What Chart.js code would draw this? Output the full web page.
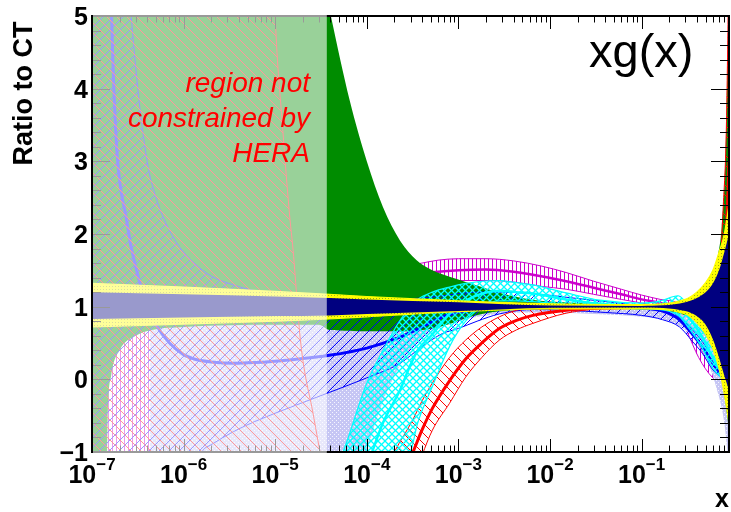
<!DOCTYPE html>
<html><head><meta charset="utf-8">
<script src="https://cdn.jsdelivr.net/npm/chart.js@4.4.1/dist/chart.umd.min.js"></script>
<style>html,body{margin:0;padding:0;background:#fff}canvas{display:block}</style>
</head><body>
<canvas id="c" width="731" height="512"></canvas>
<script>
// ---------------- data ----------------
const X_MIN = 1e-7, X_MAX = 0.9, Y_MIN = -1, Y_MAX = 5;
const HERA_LIMIT = 3.66e-5;
const X_TICK_VALUES = [1e-7, 1e-6, 1e-5, 1e-4, 1e-3, 1e-2, 1e-1];
const X_TICK_EXP = ['\u22127', '\u22126', '\u22125', '\u22124', '\u22123', '\u22122', '\u22121'];
const Y_TICK_VALUES = [-1, 0, 1, 2, 3, 4, 5];
const Y_TICK_LABELS = ['\u22121', '0', '1', '2', '3', '4', '5'];

const GREEN_X  = [1e-7, 1.4e-7, 1.48e-7, 1.62e-7, 2e-7, 3e-7, 4.5e-7, 1e-6, 1e-5, 3e-5, 3.9e-5, 6.5e-5, 1e-4, 1.5e-4, 2.3e-4, 3.5e-4, 5.2e-4, 8e-4, 1.2e-3, 1.8e-3, 3e-3, 6e-3, 1e-2, 3e-2, 0.1, 0.2, 0.3, 0.45, 0.6, 0.68, 0.75, 0.82, 0.9];
const GREEN_UP = [40, 40, 40, 40, 38, 35, 33, 30, 9, 5.8, 5.1, 3.84, 3.0, 2.37, 1.91, 1.64, 1.50, 1.41, 1.34, 1.27, 1.18, 1.10, 1.07, 1.04, 1.03, 1.05, 1.1, 1.2, 1.45, 1.7, 2.1, 3.0, 5.5];
const GREEN_LO = [-5, -3, -0.6, 0.05, 0.4, 0.6, 0.68, 0.72, 0.75, 0.75, 0.68, 0.67, 0.66, 0.66, 0.66, 0.67, 0.7, 0.76, 0.84, 0.9, 0.94, 0.96, 0.97, 0.97, 0.96, 0.93, 0.88, 0.75, 0.55, 0.3, 0.0, -0.3, -0.7];

const MAG_X   = [1e-7, 1e-6, 1e-5, 3.9e-5, 1e-4, 2.3e-4, 4e-4, 6e-4, 1e-3, 2e-3, 4e-3, 8e-3, 1.5e-2, 3e-2, 6e-2, 0.1, 0.16, 0.25, 0.31, 0.42, 0.59, 0.76, 0.9];
const MAG_UP  = [3, 3, 1.5, 1.5, 1.5, 1.55, 1.6, 1.64, 1.66, 1.66, 1.63, 1.56, 1.47, 1.35, 1.24, 1.16, 1.1, 1.05, 0.95, 0.7, 0.35, 0.08, 0.02];
const MAG_MID = [-2, -2, 0.5, 1.2, 1.3, 1.4, 1.45, 1.48, 1.5, 1.51, 1.48, 1.42, 1.35, 1.26, 1.17, 1.1, 1.05, 0.98, 0.82, 0.5, 0.18, 0.02, -0.03];
const MAG_LO  = [-5, -5, -1.5, 0.9, 1.1, 1.25, 1.3, 1.32, 1.36, 1.36, 1.34, 1.28, 1.24, 1.17, 1.1, 1.05, 1.0, 0.9, 0.67, 0.3, 0.03, -0.05, -0.08];

const LAV_X  = [4.3e-7, 1e-6, 1e-5, 3.9e-5, 7e-5, 1e-4, 1.4e-4, 2e-4, 3e-4, 5e-4, 1e-3, 2e-3, 5e-3, 1e-2, 3e-2, 0.1, 0.2, 0.35, 0.5, 0.65, 0.8, 0.9];
const LAV_UP = [1.0, 1.0, 1.02, 1.04, 1.05, 1.05, 1.06, 1.06, 1.06, 1.06, 1.06, 1.05, 1.04, 1.03, 1.02, 1.02, 1.02, 0.95, 0.8, 0.5, 0.1, -0.3];
const LAV_LO = [-5, -5, -5, -3, -1.8, -1.0, -0.4, 0.05, 0.4, 0.65, 0.8, 0.88, 0.92, 0.92, 0.9, 0.86, 0.8, 0.6, 0.3, -0.1, -0.6, -1.2];

const BLUE_X   = [1e-7, 1.6e-7, 2.45e-7, 3e-7, 4e-7, 5e-7, 7e-7, 1e-6, 1.3e-6, 2e-6, 3.5e-6, 6e-6, 1.5e-5, 3.9e-5, 1e-4, 2.3e-4, 4e-4, 6.7e-4, 1e-3, 1.6e-3, 2.8e-3, 6.5e-3, 1.5e-2, 4e-2, 0.1, 0.17, 0.26, 0.36, 0.46, 0.6, 0.75, 0.9];
const BLUE_UP  = [30, 12, 5.8, 4.3, 3.0, 2.5, 2.05, 1.75, 1.6, 1.42, 1.3, 1.22, 1.16, 1.12, 1.1, 1.1, 1.12, 1.15, 1.18, 1.2, 1.2, 1.18, 1.13, 1.07, 1.02, 1.0, 0.85, 0.68, 0.52, 0.3, 0.1, 0.02];
const BLUE_MID = [30, 5.5, 2.1, 1.55, 1.0, 0.75, 0.5, 0.34, 0.28, 0.24, 0.22, 0.23, 0.27, 0.33, 0.43, 0.58, 0.72, 0.86, 0.92, 0.96, 0.98, 1.0, 1.0, 1.0, 0.98, 0.94, 0.82, 0.62, 0.45, 0.22, 0.07, 0.02];
const BLUE_LO  = [-5, -5, -5, -5, -5, -5, -5, -5, -1.4, -0.9, -0.72, -0.58, -0.38, -0.18, 0.02, 0.22, 0.45, 0.63, 0.7, 0.8, 0.9, 0.96, 0.95, 0.92, 0.88, 0.82, 0.72, 0.52, 0.36, 0.13, 0.03, 0.0];

const RED_X   = [1e-7, 5e-6, 8e-6, 1e-5, 1.2e-5, 1.45e-5, 1.55e-5, 1.9e-5, 2.6e-5, 3.3e-5, 6e-5, 1.2e-4, 2e-4, 3.2e-4, 4e-4, 5.2e-4, 8e-4, 1.2e-3, 1.8e-3, 2.8e-3, 4.3e-3, 6.5e-3, 1.5e-2, 3.5e-2, 0.1, 0.2, 0.35, 0.5, 0.6, 0.7, 0.78, 0.84, 0.88, 0.9];
const RED_UP  = [30, 30, 9, 5.0, 3.5, 2.2, 1.85, 0.5, -0.48, -1.15, -1.8, -1.6, -1.0, -0.55, -0.3, -0.05, 0.3, 0.54, 0.72, 0.86, 0.95, 0.99, 1.0, 1.0, 1.0, 1.02, 1.04, 1.07, 1.15, 1.36, 2.4, 3.4, 5.0, 6.0];
const RED_MID = [-30, -30, -30, -30, -30, -30, -30, -30, -30, -30, -10, -3, -1.6, -1.0, -0.7, -0.4, -0.02, 0.28, 0.5, 0.7, 0.81, 0.88, 0.95, 0.98, 0.99, 0.99, 0.98, 0.98, 1.0, 1.1, 1.4, 2.0, 2.6, 3.0];
const RED_LO  = [-30, -30, -30, -30, -30, -30, -30, -30, -30, -30, -10, -5, -2.5, -1.4, -1.05, -0.7, -0.33, 0.03, 0.3, 0.54, 0.68, 0.77, 0.91, 0.97, 0.98, 0.97, 0.93, 0.88, 0.85, 0.82, 0.8, 0.8, 0.8, 0.8];

const CYAN_X   = [3.3e-5, 5.5e-5, 1e-4, 1.5e-4, 2.3e-4, 3e-4, 3.6e-4, 5.2e-4, 8e-4, 1.2e-3, 1.8e-3, 2.8e-3, 4.3e-3, 6.5e-3, 1.5e-2, 3.5e-2, 0.1, 0.16, 0.25, 0.33, 0.45, 0.6, 0.75, 0.9];
const CYAN_UP  = [-1.6, -1.0, -0.05, 0.4, 0.81, 1.0, 1.1, 1.2, 1.27, 1.32, 1.35, 1.36, 1.33, 1.3, 1.19, 1.09, 1.05, 1.08, 1.15, 1.0, 0.75, 0.45, 0.2, 0.1];
const CYAN_MID = [-3, -2, -1.2, -0.6, -0.15, 0.2, 0.4, 0.62, 0.9, 1.08, 1.18, 1.22, 1.2, 1.18, 1.1, 1.04, 1.01, 1.02, 1.02, 0.85, 0.6, 0.3, 0.1, 0.02];
const CYAN_LO  = [-4, -3, -2, -1.5, -1.15, -1.0, -0.6, -0.1, 0.45, 0.8, 1.0, 1.08, 1.08, 1.07, 1.03, 0.99, 0.97, 0.96, 0.88, 0.7, 0.45, 0.15, 0.02, -0.05];

const CT_X      = [1e-7, 1e-6, 1e-5, 3.9e-5, 1e-4, 1e-3, 1e-2, 0.1, 0.3, 0.4, 0.5, 0.6, 0.7, 0.8, 0.9];
const YELLOW_UP = [1.32, 1.27, 1.21, 1.17, 1.14, 1.08, 1.04, 1.03, 1.1, 1.2, 1.33, 1.5, 1.75, 2.0, 2.4];
const YELLOW_LO = [0.72, 0.76, 0.8, 0.83, 0.86, 0.93, 0.97, 0.97, 0.9, 0.78, 0.62, 0.42, 0.15, -0.2, -0.6];
const NAVY_UP   = [1.2, 1.17, 1.14, 1.12, 1.1, 1.06, 1.015, 1.01, 1.06, 1.12, 1.2, 1.32, 1.5, 1.75, 2.0];
const NAVY_LO   = [0.83, 0.85, 0.87, 0.88, 0.9, 0.94, 0.985, 0.99, 0.94, 0.87, 0.75, 0.55, 0.3, 0.05, -0.15];

// ---------------- fill patterns ----------------
function pat(w, h, bg, draw) {
  const c = document.createElement('canvas'); c.width = w; c.height = h;
  const g = c.getContext('2d');
  if (bg) { g.fillStyle = bg; g.fillRect(0, 0, w, h); }
  draw(g, w, h);
  return g.createPattern(c, 'repeat');
}
function diag(g, s, color, lw, dir) {
  g.strokeStyle = color; g.lineWidth = lw; g.beginPath();
  for (let k = -1; k <= 1; k++) {
    if (dir > 0) { g.moveTo(k * s, s); g.lineTo(k * s + s, 0); }
    else { g.moveTo(k * s, 0); g.lineTo(k * s + s, s); }
  }
  g.stroke();
}
const RED_PAT = pat(10, 10, null, (g, s) => diag(g, s, 'rgb(255,0,0)', 1, -1));
const BLUE_PAT = pat(10, 10, null, (g, s) => diag(g, s, 'rgb(0,0,255)', 1, 1));
const CYAN_PAT = pat(7, 7, null, (g, s) => { diag(g, s, 'rgb(0,255,255)', 1.3, 1); diag(g, s, 'rgb(0,255,255)', 1.3, -1); });
const MAG_PAT = pat(4, 4, null, (g) => { g.fillStyle = 'rgb(204,0,204)'; g.fillRect(0, 0, 1, 4); });
const YEL_PAT = pat(3, 3, 'rgb(255,255,0)', (g) => { g.fillStyle = 'rgb(160,170,20)'; g.fillRect(1, 1, 1, 1); });
const LAV_PAT = pat(4, 4, 'rgb(198,198,244)', (g) => { g.fillStyle = 'rgb(245,245,255)'; g.fillRect(0, 0, 1, 1); g.fillRect(2, 2, 1, 1); });

// ---------------- datasets ----------------
const pts = (xs, ys) => xs.map((x, i) => ({ x, y: ys[i] }));
function band(xs, up, lo, mid, o) {
  const common = { pointRadius: 0, cubicInterpolationMode: 'monotone' };
  const out = [];
  if (mid) out.push({ ...common, data: pts(xs, mid), fill: false, borderColor: o.edge, borderWidth: o.midW || 2.5 });
  out.push({ ...common, data: pts(xs, up), fill: '+1', backgroundColor: o.fill, borderColor: o.edge, borderWidth: o.edgeW });
  out.push({ ...common, data: pts(xs, lo), fill: false, borderColor: o.edge, borderWidth: o.edgeW });
  return out;
}
const datasets = [
  ...band(CT_X, NAVY_UP, NAVY_LO, null, { fill: 'rgb(0,0,128)', edge: 'rgb(0,0,128)', edgeW: 0 }),
  ...band(CT_X, YELLOW_UP, YELLOW_LO, null, { fill: YEL_PAT, edge: 'rgb(255,255,0)', edgeW: 1.2 }),
  ...band(CYAN_X, CYAN_UP, CYAN_LO, CYAN_MID, { fill: CYAN_PAT, edge: 'rgb(0,255,255)', edgeW: 1.2, midW: 2.5 }),
  ...band(RED_X, RED_UP, RED_LO, RED_MID, { fill: RED_PAT, edge: 'rgb(255,0,0)', edgeW: 1, midW: 3 }),
  ...band(BLUE_X, BLUE_UP, BLUE_LO, BLUE_MID, { fill: BLUE_PAT, edge: 'rgb(0,0,255)', edgeW: 1, midW: 3 }),
  ...band(GREEN_X, GREEN_UP, GREEN_LO, null, { fill: 'rgb(0,140,0)', edge: 'rgb(0,140,0)', edgeW: 0 }),
  ...band(LAV_X, LAV_UP, LAV_LO, null, { fill: LAV_PAT, edge: 'rgba(0,0,0,0)', edgeW: 0 }),
  ...band(MAG_X, MAG_UP, MAG_LO, MAG_MID, { fill: MAG_PAT, edge: 'rgb(204,0,204)', edgeW: 1, midW: 2.5 }),
];

// ---------------- axes / text plugin (ROOT style) ----------------
const FONT = '"Liberation Sans", Arial, Helvetica, sans-serif';
const rootPlugin = {
  id: 'rootStyle',
  afterDatasetsDraw(chart) {
    const { ctx, chartArea: a, scales: { x, y } } = chart;
    const line = (x1, y1, x2, y2) => { ctx.beginPath(); ctx.moveTo(x1, y1); ctx.lineTo(x2, y2); ctx.stroke(); };
    ctx.save();
    ctx.strokeStyle = '#000'; ctx.lineWidth = 1;
    for (let d = -7; d <= 0; d++) {
      for (let k = 1; k <= 9; k++) {
        const v = k * Math.pow(10, d);
        if (v < X_MIN * 0.999 || v > X_MAX * 1.0001) continue;
        const px = Math.round(x.getPixelForValue(v)) + 0.5;
        const len = k === 1 ? 13 : 6.5;
        line(px, a.bottom, px, a.bottom - len);
        line(px, a.top, px, a.top + len);
      }
    }
    for (let i = 0; i <= 30; i++) {
      const v = Y_MIN + i * 0.2;
      const py = Math.round(y.getPixelForValue(v)) + 0.5;
      const len = i % 5 === 0 ? 18 : 9;
      line(a.left, py, a.left + len, py);
      line(a.right, py, a.right - len, py);
    }
    ctx.lineWidth = 2;
    ctx.strokeRect(a.left, a.top, a.right - a.left, a.bottom - a.top);
    // region not constrained by HERA: whitened overlay
    const hx = x.getPixelForValue(HERA_LIMIT);
    ctx.fillStyle = 'rgba(255,255,255,0.6)';
    ctx.fillRect(a.left + 1, a.top - 1, hx - a.left - 1, a.bottom - a.top + 2);
    ctx.lineWidth = 2; ctx.strokeStyle = '#000';
    line(a.left, a.top - 1, a.left, a.bottom + 1);

    // annotations
    ctx.fillStyle = 'rgb(255,0,0)';
    ctx.font = 'italic 28px ' + FONT;
    ctx.textAlign = 'right'; ctx.textBaseline = 'alphabetic';
    ctx.fillText('region not', 310, 92);
    ctx.fillText('constrained by', 310, 127);
    ctx.fillText('HERA', 310, 162);

    ctx.fillStyle = '#000';
    ctx.font = '47px ' + FONT;
    ctx.textAlign = 'left';
    ctx.fillText('xg(x)', 589, 67);

    // tick labels
    ctx.font = 'bold 25px ' + FONT;
    ctx.textAlign = 'right';
    Y_TICK_VALUES.forEach((v, i) => {
      const py = y.getPixelForValue(v);
      ctx.fillText(Y_TICK_LABELS[i], 88, py + 9);
    });
    X_TICK_VALUES.forEach((v, i) => {
      const px = x.getPixelForValue(v);
      ctx.font = 'bold 25px ' + FONT;
      const w1 = ctx.measureText('10').width;
      ctx.font = 'bold 17px ' + FONT;
      const w2 = ctx.measureText(X_TICK_EXP[i]).width;
      const start = px - (w1 + w2) / 2;
      ctx.textAlign = 'left';
      ctx.font = 'bold 25px ' + FONT;
      ctx.fillText('10', start, 483);
      ctx.font = 'bold 17px ' + FONT;
      ctx.fillText(X_TICK_EXP[i], start + w1, 470);
    });
    // axis titles
    ctx.font = 'bold 25px ' + FONT;
    ctx.textAlign = 'right';
    ctx.fillText('x', 729, 507);
    ctx.save();
    ctx.translate(32, 93.5);
    ctx.rotate(-Math.PI / 2);
    ctx.textAlign = 'center';
    ctx.font = 'bold 27px ' + FONT;
    ctx.fillText('Ratio to CT', 0, 0);
    ctx.restore();
    ctx.restore();
  }
};

new Chart(document.getElementById('c'), {
  type: 'line',
  data: { datasets },
  options: {
    responsive: false,
    animation: false,
    devicePixelRatio: 1,
    layout: { padding: { left: 92, right: 2, top: 16, bottom: 60 } },
    scales: {
      x: { type: 'logarithmic', min: X_MIN, max: X_MAX, display: false },
      y: { type: 'linear', min: Y_MIN, max: Y_MAX, display: false }
    },
    plugins: { legend: { display: false }, tooltip: { enabled: false }, filler: { propagate: false } },
    elements: { point: { radius: 0 } }
  },
  plugins: [rootPlugin]
});
</script>
</body></html>
